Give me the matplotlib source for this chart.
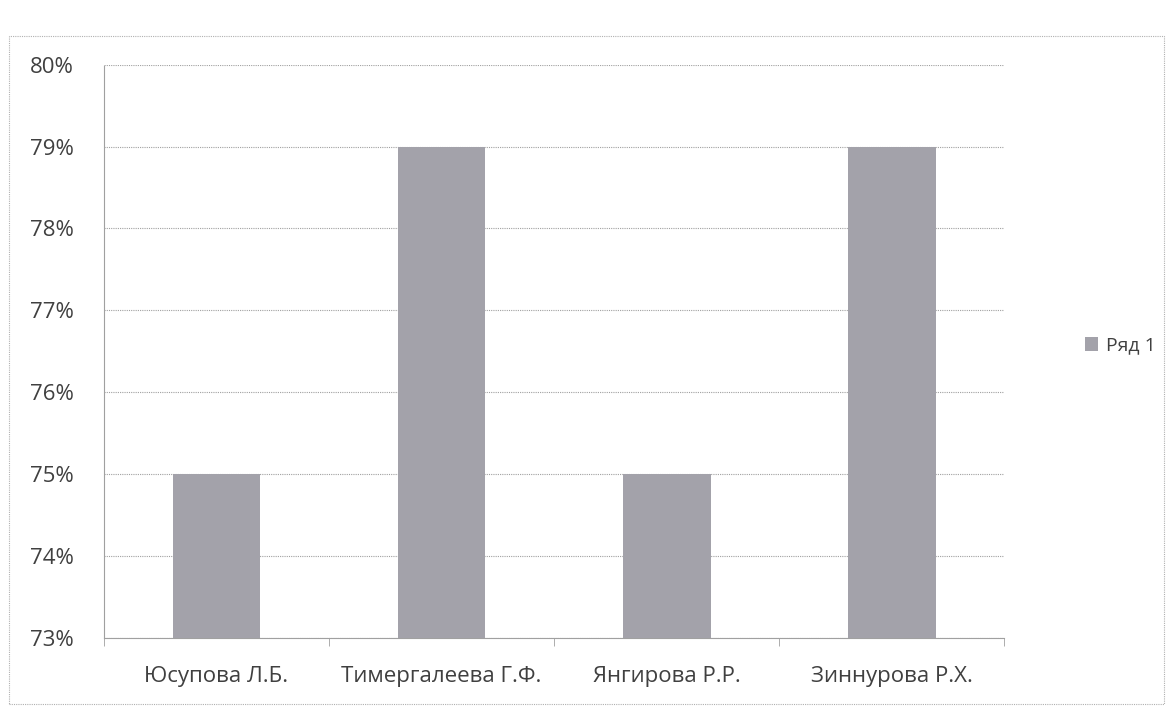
import matplotlib.pyplot as plt
import matplotlib
from matplotlib.patches import Rectangle
from matplotlib.ticker import FuncFormatter

matplotlib.rcParams['font.family'] = ['Open Sans', 'DejaVu Sans']

# ---------- данные ----------
teachers = ['Юсупова Л.Б.', 'Тимергалеева Г.Ф.', 'Янгирова Р.Р.', 'Зиннурова Р.Х.']
values = [75, 79, 75, 79]
series_name = 'Ряд 1'
y_ticks = [73, 74, 75, 76, 77, 78, 79, 80]

bar_color = '#a3a2aa'
grid_color = '#a0a0a0'
text_color = '#404040'

fig = plt.figure(figsize=(11.69, 7.11), dpi=100)
ax = fig.add_axes([0.089, 0.103, 0.77, 0.806])

x = range(len(teachers))
ax.bar(x, values, width=0.39, color=bar_color, label=series_name, zorder=3)

ax.set_ylim(73, 80)
ax.set_xlim(-0.5, len(teachers) - 0.5)
ax.set_yticks(y_ticks)
ax.yaxis.set_major_formatter(FuncFormatter(lambda v, _: f'{v:.0f}%'))
ax.set_xticks(list(x))
ax.set_xticklabels(teachers)

# сетка и оси в стиле Excel
ax.grid(axis='y', color=grid_color, linestyle=(0, (1, 1)), linewidth=0.8, zorder=0)
for side in ['top', 'right']:
    ax.spines[side].set_visible(False)
ax.spines['left'].set_color(grid_color)
ax.spines['bottom'].set_color(grid_color)
ax.spines['left'].set_linestyle((0, (1, 1)))
ax.spines['bottom'].set_linestyle((0, (1, 1)))

ax.tick_params(axis='y', length=0, pad=22, labelsize=16, labelcolor=text_color)
ax.tick_params(axis='x', length=0, pad=20, labelsize=16, labelcolor=text_color)
# короткие засечки между категориями
ax.set_xticks([i + 0.5 for i in range(-1, len(teachers))], minor=True)
ax.tick_params(axis='x', which='minor', length=6, color=grid_color, direction='out')

leg = ax.legend(loc='center left', bbox_to_anchor=(1.07, 0.51), frameon=False,
                fontsize=14, handlelength=0.7, handleheight=0.7, handletextpad=0.4)
for t in leg.get_texts():
    t.set_color(text_color)

# внешняя рамка диаграммы
fig.patches.append(Rectangle((0.008, 0.01), 0.988, 0.94, transform=fig.transFigure,
                             fill=False, edgecolor='#b0b0b0', linewidth=0.8,
                             linestyle=(0, (1, 1))))

plt.savefig('out.png', dpi=100)
